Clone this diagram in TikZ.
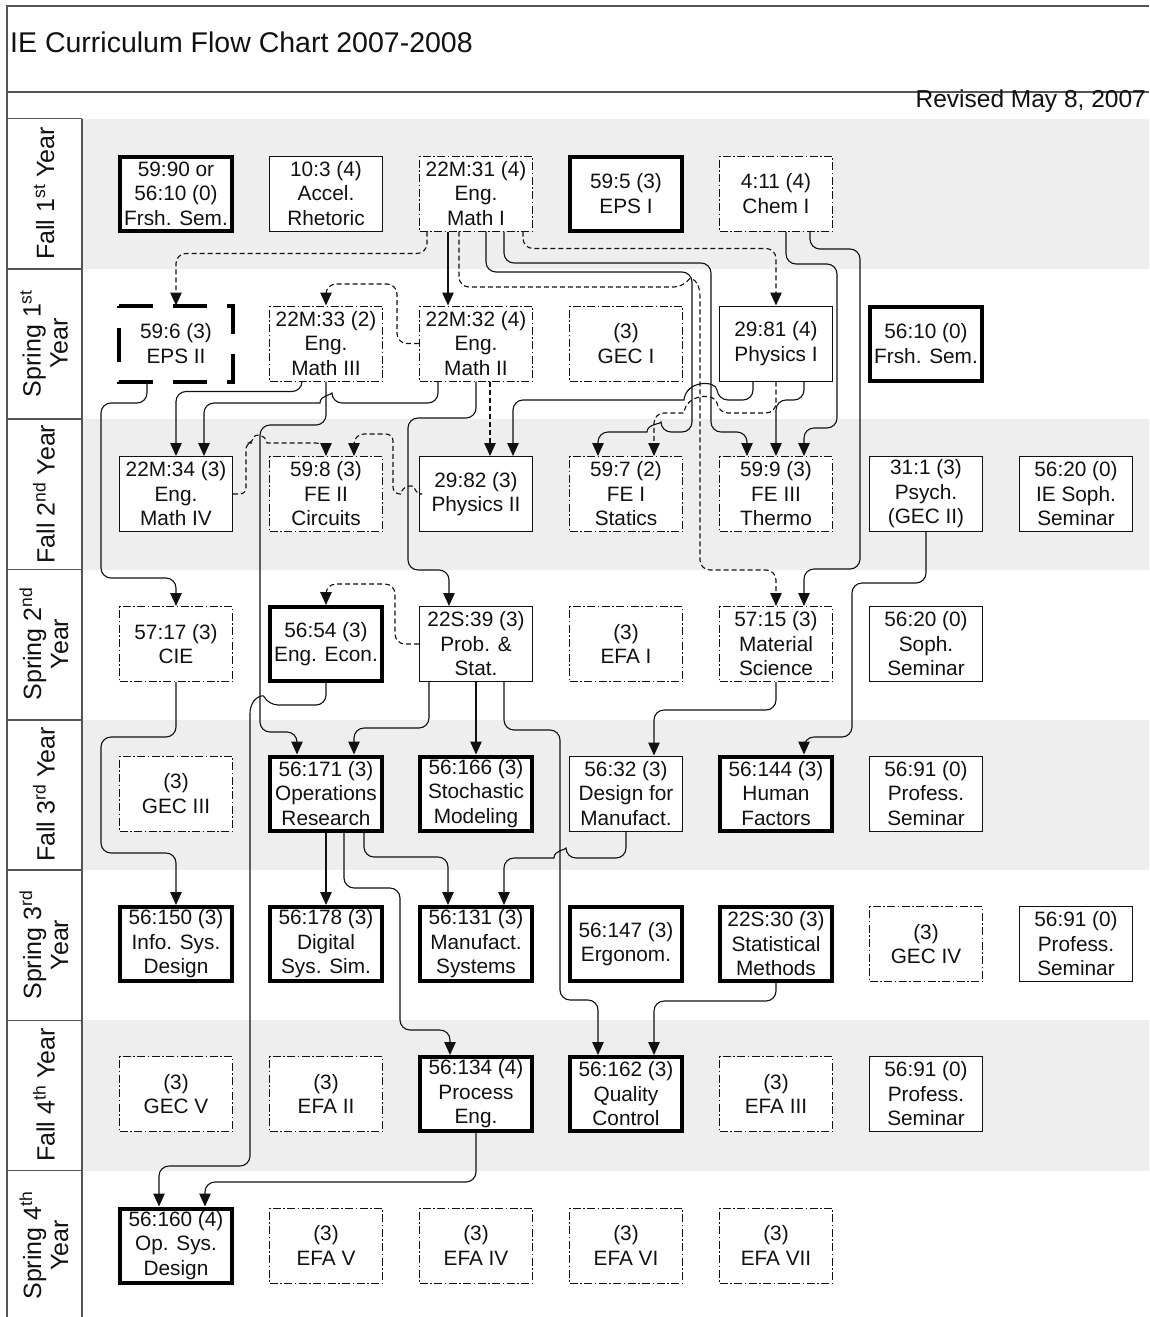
\documentclass[tikz,border=0pt]{standalone}
\usepackage{fontspec}
\setmainfont{Liberation Sans}
\usetikzlibrary{arrows.meta}
\newcommand\bxfont{\fontsize{20.8}{24.5}\selectfont}
\newcommand\lbfont{\fontsize{25}{27}\selectfont}
\definecolor{shadegray}{HTML}{EEEEEE}
\definecolor{framegray}{HTML}{555555}
\definecolor{ink}{HTML}{111111}
\begin{document}
\begin{tikzpicture}[x=1pt,y=-1pt,
  box/.style={rectangle, inner sep=0pt, align=center, fill=white, font=\bxfont, text=ink},
  thinbox/.style={box, draw=ink, line width=1pt, minimum width=113pt, minimum height=75pt},
  thickbox/.style={box, draw=black, line width=4pt, minimum width=112pt, minimum height=74pt},
  dashbox/.style={box, draw=ink, line width=1pt, minimum width=113pt, minimum height=75pt, dash pattern=on 8pt off 2.5pt on 1.5pt off 2.5pt},
  conn/.style={draw=ink, line width=1.1pt, rounded corners=10pt, -{Triangle[length=13pt,width=11.5pt]}},
  dconn/.style={conn, dash pattern=on 5pt off 3pt},
  frame/.style={draw=framegray, line width=1.5pt},
  lab/.style={font=\lbfont, align=center, rotate=90, text=ink, inner sep=0pt}
]
\useasboundingbox (0,0) rectangle (1149,1317);
\fill[white] (0,0) rectangle (1149,1317);
% shaded fall rows
\fill[shadegray] (82,118.5) rectangle (1149,268.8);
\fill[shadegray] (82,419.2) rectangle (1149,569.5);
\fill[shadegray] (82,719.8) rectangle (1149,870);
\fill[shadegray] (82,1020.3) rectangle (1149,1170.5);
% frame
\draw[frame] (1149,6) -- (7,6) -- (7,1317);
\draw[frame] (7,92) -- (1149,92);
\draw[frame] (82,118.5) -- (82,1317);
\foreach \yy in {118.5,268.8,419.2,569.5,719.8,870,1020.3,1170.5}
  \draw[frame] (7,\yy) -- (82,\yy);
\node[anchor=base west, font=\fontsize{28.5}{30}\selectfont, text=ink, inner sep=0pt] (title) at (10,52) {IE Curriculum Flow Chart 2007-2008};
\node[anchor=base east, font=\fontsize{24.5}{26}\selectfont, text=ink, inner sep=0pt] (revised) at (1146,107) {Revised May 8, 2007};
% row labels
\node[lab] (l1) at (44,193.5) {Fall 1\textsuperscript{st} Year};
\node[lab] (l2) at (44,343.5) {Spring 1\textsuperscript{st}\\Year};
\node[lab] (l3) at (44,494) {Fall 2\textsuperscript{nd} Year};
\node[lab] (l4) at (44,644) {Spring 2\textsuperscript{nd}\\Year};
\node[lab] (l5) at (44,794.5) {Fall 3\textsuperscript{rd} Year};
\node[lab] (l6) at (44,945) {Spring 3\textsuperscript{rd}\\Year};
\node[lab] (l7) at (44,1095) {Fall 4\textsuperscript{th} Year};
\node[lab] (l8) at (44,1245.5) {Spring 4\textsuperscript{th}\\Year};
% row 1
\node[thickbox] (fs1) at (176,193.5) {59:90 or\\56:10 (0)\\Frsh. Sem.};
\node[thinbox] (rh) at (326,193.5) {10:3 (4)\\Accel.\\Rhetoric};
\node[dashbox] (m1) at (476,193.5) {22M:31 (4)\\Eng.\\Math I};
\node[thickbox] (eps1) at (626,193.5) {59:5 (3)\\EPS I};
\node[dashbox] (ch) at (776,193.5) {4:11 (4)\\Chem I};
% row 2
\node[box, minimum width=114pt, minimum height=76pt, outer sep=0pt] (eps2) at (176,343.5) {59:6 (3)\\EPS II};
\draw[black, line width=4pt, dash pattern=on 34pt off 20pt] (eps2.north west) -- (eps2.north east) -- (eps2.south east) -- (eps2.south west) -- cycle;
\node[dashbox] (m3) at (326,343.5) {22M:33 (2)\\Eng.\\Math III};
\node[dashbox] (m2) at (476,343.5) {22M:32 (4)\\Eng.\\Math II};
\node[dashbox] (gec1) at (626,343.5) {(3)\\GEC I};
\node[thinbox] (ph1) at (776,343.5) {29:81 (4)\\Physics I};
\node[thickbox] (fs2) at (926,343.5) {56:10 (0)\\Frsh. Sem.};
% row 3
\node[thinbox] (m4) at (176,494) {22M:34 (3)\\Eng.\\Math IV};
\node[dashbox] (fe2) at (326,494) {59:8 (3)\\FE II\\Circuits};
\node[thinbox] (ph2) at (476,494) {29:82 (3)\\Physics II};
\node[dashbox] (fe1) at (626,494) {59:7 (2)\\FE I\\Statics};
\node[dashbox] (fe3) at (776,494) {59:9 (3)\\FE III\\Thermo};
\node[thinbox] (psy) at (926,494) {31:1 (3)\\Psych.\\(GEC II)};
\node[thinbox] (soph1) at (1076,494) {56:20 (0)\\IE Soph.\\Seminar};
% row 4
\node[dashbox] (cie) at (176,644) {57:17 (3)\\CIE};
\node[thickbox] (econ) at (326,644) {56:54 (3)\\Eng. Econ.};
\node[thinbox] (ps) at (476,644) {22S:39 (3)\\Prob. \&\\Stat.};
\node[dashbox] (efa1) at (626,644) {(3)\\EFA I};
\node[dashbox] (mat) at (776,644) {57:15 (3)\\Material\\Science};
\node[thinbox] (soph2) at (926,644) {56:20 (0)\\Soph.\\Seminar};
% row 5
\node[dashbox] (gec3) at (176,793.5) {(3)\\GEC III};
\node[thickbox] (opr) at (326,793.5) {56:171 (3)\\Operations\\Research};
\node[thickbox] (stoch) at (476,793.5) {56:166 (3)\\Stochastic\\Modeling};
\node[thinbox] (dfm) at (626,793.5) {56:32 (3)\\Design for\\Manufact.};
\node[thickbox] (hf) at (776,793.5) {56:144 (3)\\Human\\Factors};
\node[thinbox] (prof1) at (926,793.5) {56:91 (0)\\Profess.\\Seminar};
% row 6
\node[thickbox] (info) at (176,944) {56:150 (3)\\Info. Sys.\\Design};
\node[thickbox] (dss) at (326,944) {56:178 (3)\\Digital\\Sys. Sim.};
\node[thickbox] (ms) at (476,944) {56:131 (3)\\Manufact.\\Systems};
\node[thickbox] (erg) at (626,944) {56:147 (3)\\Ergonom.};
\node[thickbox] (stm) at (776,944) {22S:30 (3)\\Statistical\\Methods};
\node[dashbox] (gec4) at (926,944) {(3)\\GEC IV};
\node[thinbox] (prof2) at (1076,944) {56:91 (0)\\Profess.\\Seminar};
% row 7
\node[dashbox] (gec5) at (176,1094) {(3)\\GEC V};
\node[dashbox] (efa2) at (326,1094) {(3)\\EFA II};
\node[thickbox] (proc) at (476,1094) {56:134 (4)\\Process\\Eng.};
\node[thickbox] (qc) at (626,1094) {56:162 (3)\\Quality\\Control};
\node[dashbox] (efa3) at (776,1094) {(3)\\EFA III};
\node[thinbox] (prof3) at (926,1094) {56:91 (0)\\Profess.\\Seminar};
% row 8
\node[thickbox] (osd) at (176,1245.5) {56:160 (4)\\Op. Sys.\\Design};
\node[dashbox] (efa5) at (326,1245.5) {(3)\\EFA V};
\node[dashbox] (efa4) at (476,1245.5) {(3)\\EFA IV};
\node[dashbox] (efa6) at (626,1245.5) {(3)\\EFA VI};
\node[dashbox] (efa7) at (776,1245.5) {(3)\\EFA VII};

% ---------- connectors ----------
% from Math I
\draw[dconn] ([xshift=-49pt]m1.south) -- ++(0,22) -| (eps2.north);
\draw[conn] ([xshift=-28pt]m1.south) -- ([xshift=-28pt]m2.north);
\draw[dconn] ([xshift=-17pt]m1.south) |- (684,287) [sharp corners] .. controls (690,278) and (700,279) .. (700,297) [rounded corners=10pt] -- (700,570) -| (mat.north);
\draw[conn] ([xshift=10pt]m1.south) |- (692,272) -- (692,432) -- (661,432) [sharp corners] .. controls (661,424) and (647,424) .. (647,432) [rounded corners=10pt] -| ([xshift=-28pt]fe1.north);
\draw[conn] ([xshift=28pt]m1.south) |- (711,263) -- (711,432) -| ([xshift=-29pt]fe3.north);
\draw[dconn] ([xshift=47pt]m1.south) -- ++(0,17) -| (ph1.north);
% from Chem I
\draw[conn] ([xshift=10pt]ch.south) |- (837,264) -- (837,428) -| ([xshift=28pt]fe3.north);
\draw[conn] ([xshift=34pt]ch.south) |- (860,249) -- (860,569) -| ([xshift=28pt]mat.north);
% from Physics I
\draw[conn] ([xshift=-23pt]ph1.south) |- (718,400) [sharp corners] .. controls (716,380) and (686,380) .. (684,400) [rounded corners=10pt] -| ([xshift=37pt]ph2.north);
\draw[dconn] (ph1.south) |- (718,413) [sharp corners] .. controls (716,393) and (686,393) .. (684,413) [rounded corners=10pt] -| ([xshift=28pt]fe1.north);
\draw[conn] ([xshift=28pt]ph1.south) |- (776,400) -- (fe3.north);
% from Math II
\draw[dconn] (m2.west) -| (397,284) -| (m3.north);
\draw[conn] ([xshift=-38pt]m2.south) |- (332,403) [sharp corners] .. controls (332,395) and (320,395) .. (320,403) [rounded corners=10pt] -| ([xshift=28pt]m4.north);
\draw[conn] (m2.south) |- (408,418) |- (449,570) -- ([xshift=-27pt]ps.north);
\draw[dconn] ([xshift=14pt]m2.south) -- ([xshift=14pt]ph2.north);
% from Math III
\draw[conn] ([xshift=-24pt]m3.south) -- ++(0,10) -| (m4.north);
\draw[conn] (m3.south) |- (260,425) |- (297,732) -- ([xshift=-29pt]opr.north);
% from EPS II
\draw[conn] ([xshift=-29pt]eps2.south) |- (101,403) |- (176,578) -- (cie.north);
% from CIE
\draw[conn] (cie.south) |- (101,737) |- (176,853) -- (info.north);
% from Prob & Stat
\draw[dconn] (ps.west) -| (395,584) -| (econ.north);
\draw[conn] ([xshift=-47pt]ps.south) |- (354,728) -- ([xshift=28pt]opr.north);
\draw[conn] (ps.south) -- (stoch.north);
\draw[conn] ([xshift=28pt]ps.south) |- (560,730) |- (598,1000) -- ([xshift=-28pt]qc.north);
% Math IV -> FE II, Physics II -> FE II
\draw[dconn, rounded corners=6pt] (m4.east) -- (246,494) -- (246,443) -- (253,443) [sharp corners] .. controls (254,434) and (266,434) .. (267,443) [rounded corners=10pt] -| (fe2.north);
\draw[dconn, rounded corners=7pt] (ph2.west) -- (415,494) [sharp corners] .. controls (414,485) and (402,485) .. (401,494) [rounded corners=7pt] -- (393,494) -- (393,434) [rounded corners=10pt] -| ([xshift=28pt]fe2.north);
% Eng Econ -> Op Sys Design
\draw[conn] (econ.south) |- (268,705) [sharp corners] .. controls (263,695) and (250,697) .. (250,714) [rounded corners=10pt] |- (159,1166) -- ([xshift=-17pt]osd.north);
% Material Science -> DfM ; Psych -> HF
\draw[conn] (mat.south) |- (654,710) -- ([xshift=28pt]dfm.north);
\draw[conn] (psy.south) |- (852,583) |- (804,737) -- ([xshift=28pt]hf.north);
% from Operations Research
\draw[conn] (opr.south) -- (dss.north);
\draw[conn] ([xshift=18pt]opr.south) |- (400,888) |- (450,1030) -- ([xshift=-26pt]proc.north);
\draw[conn] ([xshift=38pt]opr.south) |- (448,857) -- ([xshift=-28pt]ms.north);
% DfM -> Manufact. Systems
\draw[conn] (dfm.south) |- (566,858) [sharp corners] .. controls (566,850) and (554,850) .. (554,858) [rounded corners=10pt] -| ([xshift=28pt]ms.north);
% Statistical Methods -> QC ; Process Eng -> Op Sys Design
\draw[conn] (stm.south) |- (654,1001) -- ([xshift=28pt]qc.north);
\draw[conn] (proc.south) |- (205,1182) -- ([xshift=29pt]osd.north);
\end{tikzpicture}
\end{document}
